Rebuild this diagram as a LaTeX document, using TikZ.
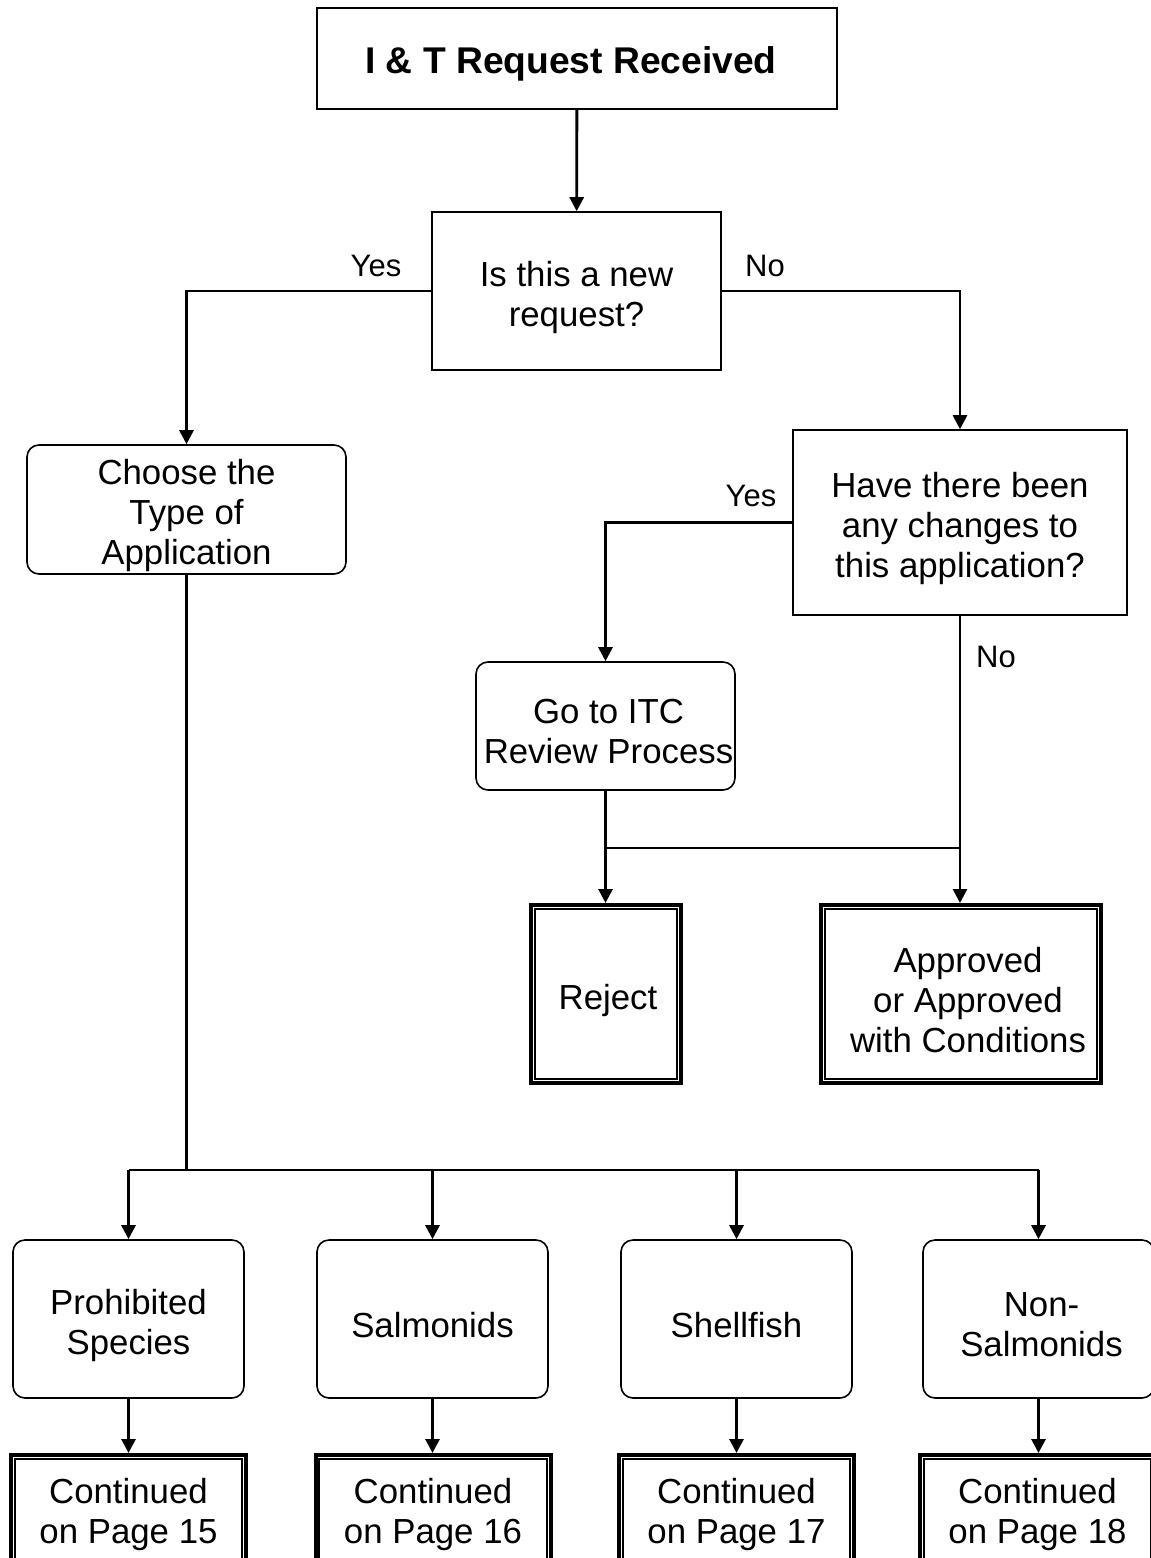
\documentclass[tikz,border=0pt]{standalone}
\usepackage{fontspec}
\setmainfont{Liberation Sans}
\usetikzlibrary{arrows.meta}
\begin{document}
\begin{tikzpicture}[x=0.5pt,y=-0.5pt,
  box/.style={draw,line width=0.8pt,inner sep=0pt},
  rbox/.style={box,rounded corners=6pt},
  dbox/.style={box,line width=2pt},
  txt/.style={align=center,inner sep=0pt,yshift=-3pt,font=\fontsize{17.4}{20}\selectfont},
  conn/.style={line width=1.4pt},
  arr/.style={conn,-{Triangle[length=7pt,width=7pt]}},
  lbl/.style={font=\fontsize{15.5}{18}\selectfont,inner sep=0pt}]
\clip (0,0) rectangle (1151,1558);
\useasboundingbox (0,0) rectangle (1151,1558);
\node[box,minimum width=260pt,minimum height=50.5pt,label={[txt,xshift=-3pt,yshift=0.5pt,font=\bfseries\fontsize{18.6}{22}\selectfont]center:I \& T Request Received}] (title) at (577,58.5) {};
\node[box,minimum width=144.5pt,minimum height=79pt,label={[txt]center:{Is this a new\\request?}}] (dec) at (576.5,291) {};
\node[rbox,minimum width=159.5pt,minimum height=64.5pt,label={[txt]center:{Choose the\\Type of\\Application}}] (choose) at (186.5,509.5) {};
\node[box,minimum width=167pt,minimum height=92.5pt,label={[txt]center:{Have there been\\any changes to\\this application?}}] (chg) at (960,522.5) {};
\node[rbox,minimum width=129.5pt,minimum height=64pt,label={[txt,xshift=1.5pt]center:{Go to ITC\\Review Process}}] (itc) at (605.5,726) {};
\node[dbox,minimum width=75pt,minimum height=89pt,label={[txt,xshift=1pt]center:Reject}] (rej) at (606,994) {};
\node[dbox,minimum width=140pt,minimum height=89pt,label={[txt,xshift=3.5pt]center:{Approved\\or Approved\\with Conditions}}] (appr) at (961,994) {};
\node[rbox,minimum width=115.5pt,minimum height=79pt,label={[txt]center:{Prohibited\\Species}}] (p1) at (128.5,1319) {};
\node[rbox,minimum width=115.5pt,minimum height=79pt,label={[txt]center:Salmonids}] (p2) at (432.5,1319) {};
\node[rbox,minimum width=115.5pt,minimum height=79pt,label={[txt]center:Shellfish}] (p3) at (736.5,1319) {};
\node[rbox,minimum width=115.5pt,minimum height=79pt,label={[txt,xshift=1.5pt]center:{Non-\\Salmonids}}] (p4) at (1038.5,1319) {};
\node[dbox,minimum width=117.5pt,minimum height=56pt,label={[txt,yshift=1.5pt]center:{Continued\\on Page 15}}] (c1) at (128.5,1511) {};
\node[dbox,minimum width=117.5pt,minimum height=56pt,label={[txt,yshift=1.5pt]center:{Continued\\on Page 16}}] (c2) at (433,1511) {};
\node[dbox,minimum width=117.5pt,minimum height=56pt,label={[txt,yshift=1.5pt]center:{Continued\\on Page 17}}] (c3) at (736.5,1511) {};
\node[dbox,minimum width=117.5pt,minimum height=56pt,label={[txt,yshift=1.5pt]center:{Continued\\on Page 18}}] (c4) at (1037.5,1511) {};
\foreach \n in {rej,appr,c1,c2,c3,c4}
  \draw[line width=1.1pt] ([shift={(2.9pt,-2.9pt)}]\n.north west) rectangle ([shift={(-2.9pt,2.9pt)}]\n.south east);
\node[lbl] (yes1) at (376,266) {Yes};
\node[lbl] (no1) at (765,266) {No};
\node[lbl] (yes2) at (751,496) {Yes};
\node[lbl] (no2) at (996,657) {No};
\draw[arr] (title) -- (dec);
\draw[arr] (dec.west) -| (choose.north);
\draw[arr] (dec.east) -| (chg.north);
\draw[arr] (chg.west) -| (itc.north);
\draw[arr] (chg.south) -- (chg.south |- appr.north);
\coordinate (j1) at (itc.south |- 0,848);
\draw[conn] (itc.south) -- (j1) -- (chg.south |- j1);
\draw[arr] (j1) -- (j1 |- rej.north);
\coordinate (j3) at (choose.south |- 0,1170);
\draw[conn] (choose.south) -- (j3);
\draw[conn] (p1.north |- j3) -- (p4.north |- j3);
\foreach \n in {p1,p2,p3,p4} \draw[arr] (\n.north |- j3) -- (\n.north);
\draw[arr] (p1) -- (c1);
\draw[arr] (p2) -- (p2.south |- c2.north);
\draw[arr] (p3) -- (p3.south |- c3.north);
\draw[arr] (p4) -- (p4.south |- c4.north);
\end{tikzpicture}
\end{document}
